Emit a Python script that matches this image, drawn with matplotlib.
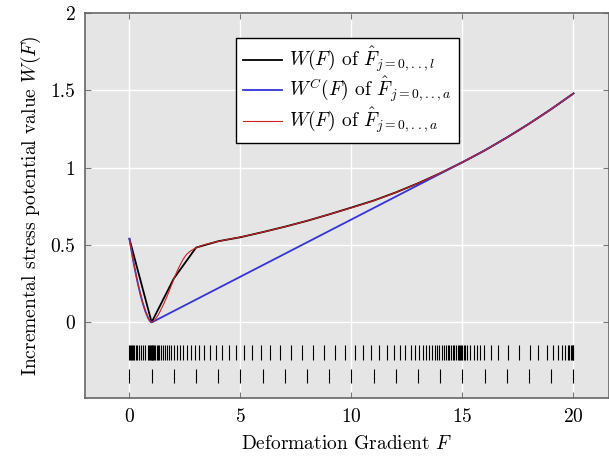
import numpy as np
import matplotlib
matplotlib.use("Agg")
import matplotlib.pyplot as plt

plt.rcParams["font.family"] = "serif"
plt.rcParams["font.serif"] = ["cmr10"]
plt.rcParams["mathtext.fontset"] = "cm"
plt.rcParams["axes.formatter.use_mathtext"] = True

# l-grid: integer deformation gradients and W at those points
F_l = list(range(0, 21))
W_l = [0.54, 0.0, 0.283, 0.483, 0.524, 0.55, 0.583, 0.618, 0.656, 0.698, 0.742,
       0.787, 0.84, 0.899, 0.964, 1.035, 1.111, 1.195, 1.284, 1.379, 1.48]

# adaptive a-grid and W at those points
F_a = [0, 0.04, 0.08, 0.12, 0.17, 0.22, 0.28, 0.35, 0.42, 0.5, 0.6, 0.72, 0.85, 0.9,
       0.94, 0.97, 1.0, 1.03, 1.06, 1.1, 1.15, 1.22, 1.28, 1.35, 1.42, 1.5, 1.58, 1.67,
       1.77, 1.88, 2.0, 2.13, 2.28, 2.43, 2.58, 2.76, 2.95, 3.15, 3.37, 3.63, 3.9, 4.17,
       4.47, 4.8, 5.16, 5.52, 5.91, 6.33, 6.78, 7.26, 7.76, 8.28, 8.78, 9.26, 9.71,
       10.15, 10.52, 10.9, 11.26, 11.58, 11.91, 12.18, 12.43, 12.66, 12.87, 13.05,
       13.22, 13.37, 13.51, 13.63, 13.75, 13.86, 13.96, 14.06, 14.15, 14.24, 14.33,
       14.41, 14.49, 14.57, 14.64, 14.71, 14.78, 14.84, 14.9, 14.95, 15.0, 15.05,
       15.12, 15.21, 15.36, 15.51, 15.64, 15.78, 15.99, 16.28, 16.6, 17.04, 17.53,
       18.02, 18.42, 18.8, 19.09, 19.32, 19.5, 19.64, 19.74, 19.82, 19.88, 19.93,
       19.97, 20.0]
W_a = [0.54, 0.506, 0.473, 0.44, 0.401, 0.363, 0.319, 0.271, 0.226, 0.178, 0.125,
       0.07, 0.026, 0.0136, 0.006, 0.002, 0.0, 0.001, 0.004, 0.009, 0.017, 0.03, 0.044,
       0.062, 0.082, 0.105, 0.13, 0.16, 0.195, 0.235, 0.28, 0.325, 0.37, 0.41, 0.44,
       0.462, 0.478, 0.49, 0.501, 0.511, 0.52, 0.528, 0.537, 0.546, 0.556, 0.567,
       0.58, 0.594, 0.61, 0.628, 0.647, 0.668, 0.689, 0.709, 0.728,
       0.747, 0.764, 0.782, 0.8, 0.817, 0.835, 0.85, 0.865, 0.878, 0.891, 0.902,
       0.913, 0.9225, 0.9316, 0.9394, 0.9473, 0.9547, 0.9614, 0.9683, 0.9744, 0.9806,
       0.9869, 0.9925, 0.9982, 1.0039, 1.0089, 1.014, 1.019, 1.0234, 1.0278, 1.0315,
       1.035, 1.0387, 1.0439, 1.0507, 1.062, 1.0735, 1.0835, 1.0945, 1.1111, 1.1346,
       1.161, 1.198, 1.241, 1.286, 1.323, 1.359, 1.388, 1.4105, 1.4286, 1.4428, 1.453,
       1.4612, 1.4674, 1.4726, 1.4767, 1.4797]


def lower_hull(xs, ys):
    # monotone chain, lower part only
    hull = []
    for p in zip(xs, ys):
        while len(hull) >= 2:
            (x1, y1), (x2, y2) = hull[-2], hull[-1]
            if (x2 - x1) * (p[1] - y1) - (y2 - y1) * (p[0] - x1) <= 0:
                hull.pop()
            else:
                break
        hull.append(p)
    return [h[0] for h in hull], [h[1] for h in hull]


hx, hy = lower_hull(F_a, W_a)

fig = plt.figure(figsize=(6.09, 4.65), dpi=100)
ax = fig.add_axes([0.1396, 0.144, 0.8604, 0.828])
ax.set_facecolor("#e5e5e5")
ax.grid(True, color="white", linewidth=1.0)
ax.set_axisbelow(True)

ax.plot(F_l, W_l, color="black", linewidth=1.3, label=r"$W(F)$ of $\hat{F}_{j=0,..,l}$")
ax.plot(hx, hy, color="#3333dd", linewidth=1.3, label=r"$W^C(F)$ of $\hat{F}_{j=0,..,a}$")
ax.plot(F_a, W_a, color="#cc2222", linewidth=0.8, label=r"$W(F)$ of $\hat{F}_{j=0,..,a}$")

# grid point markers
ax.vlines(F_a, -0.245, -0.15, color="black", linewidth=0.8)
ax.vlines(F_l, -0.395, -0.30, color="black", linewidth=0.8)

ax.set_xlim(-2, 21.6)
ax.set_ylim(-0.49, 2)
ax.set_xticks([0, 5, 10, 15, 20])
ax.set_yticks([0, 0.5, 1, 1.5, 2])
ax.set_yticklabels(["0", "0.5", "1", "1.5", "2"])
ax.tick_params(direction="in", top=True, right=True, length=4, color="#777777",
               labelsize=14, pad=7)
for s in ax.spines.values():
    s.set_color("#666666")
    s.set_linewidth(1.2)

ax.set_xlabel(r"Deformation Gradient $F$", fontsize=14, labelpad=7)
ax.set_ylabel(r"Incremental stress potential value $W(F)$", fontsize=14, labelpad=5)

leg = ax.legend(loc="upper left", bbox_to_anchor=(0.288, 0.935), fontsize=14,
                fancybox=False, framealpha=1, edgecolor="black", handlelength=2.0,
                handletextpad=0.4, borderpad=0.35, labelspacing=0.02, borderaxespad=0)
leg.get_frame().set_linewidth(1.0)

fig.savefig("out.png", dpi=100)
